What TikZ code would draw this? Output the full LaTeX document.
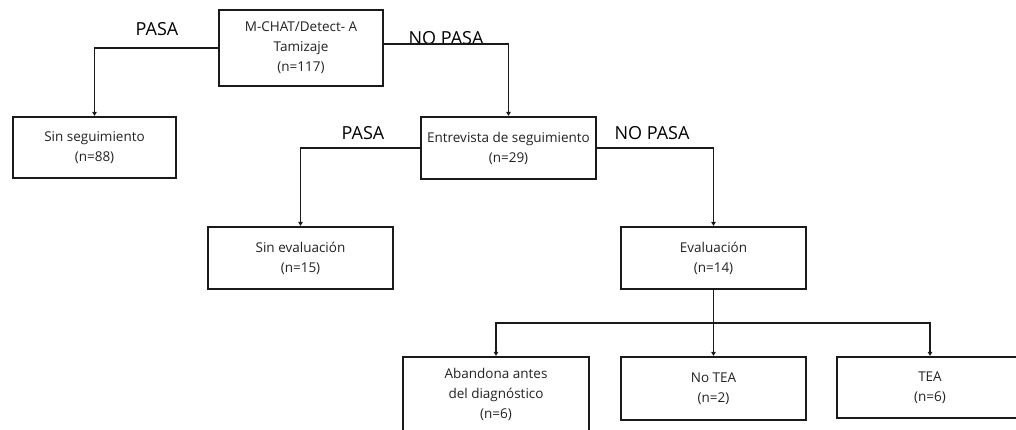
\documentclass[tikz,border=0pt]{standalone}
\usepackage{fontspec}
\setmainfont{Open Sans}
\usetikzlibrary{arrows.meta,calc}
\definecolor{ink}{HTML}{1A1A1A}
\definecolor{txt}{HTML}{222222}
\tikzset{
  box/.style={draw=ink, line width=2.2pt, rectangle, align=center, inner sep=0pt,
    text=txt, font=\fontsize{13.5}{20}\selectfont},
  lbl/.style={font=\fontsize{18}{20}\selectfont, text=black, inner sep=0pt},
  arr/.style={draw=ink, line width=1.4pt, -{Triangle[length=4pt,width=4.5pt]}},
}
\begin{document}
\begin{tikzpicture}[x=1pt,y=-1pt]
\useasboundingbox (0,0) rectangle (1016,430);
\clip (0,0) rectangle (1016,430);
\node[box, minimum width=164pt, minimum height=76pt] (top) at (301,48)
  {M-CHAT/Detect- A\\Tamizaje\\(n=117)};
\node[box, minimum width=163pt, minimum height=61pt] (sinseg) at (94.5,147.5)
  {Sin seguimiento\\(n=88)};
\node[box, minimum width=175pt, minimum height=62pt] (entrev) at (508.5,148)
  {Entrevista de seguimiento\\(n=29)};
\node[box, minimum width=185pt, minimum height=62pt] (sineval) at (300.5,258)
  {Sin evaluación\\(n=15)};
\node[box, minimum width=185pt, minimum height=62pt] (eval) at (713.5,258)
  {Evaluación\\(n=14)};
\node[box, minimum width=186pt, minimum height=74pt] (aband) at (496,394)
  {Abandona antes\\del diagnóstico\\(n=6)};
\node[box, minimum width=185pt, minimum height=63pt] (notea) at (713.5,388.5)
  {No TEA\\(n=2)};
\node[box, minimum width=186pt, minimum height=61pt] (tea) at (930,387.5)
  {TEA\\(n=6)};

\node[lbl] (l1) at (157,29) {PASA};
\node[lbl] (l2) at (446,38) {NO PASA};
\node[lbl] (l3) at (363,133) {PASA};
\node[lbl] (l4) at (652,133) {NO PASA};

\draw[arr] (top.west) -| (sinseg.north);
\draw[arr] ([yshift=4pt]top.east) -| (entrev.north);
\draw[arr] (entrev.west) -| (sineval.north);
\draw[arr] (entrev.east) -| (eval.north);
\coordinate (br) at ($(eval.south)!0.5!(notea.north)$);
\draw[arr] (eval.south) -- (notea.north);
\draw[arr] (br) -| (aband.north);
\draw[arr] (br) -| (tea.north);
\end{tikzpicture}
\end{document}
